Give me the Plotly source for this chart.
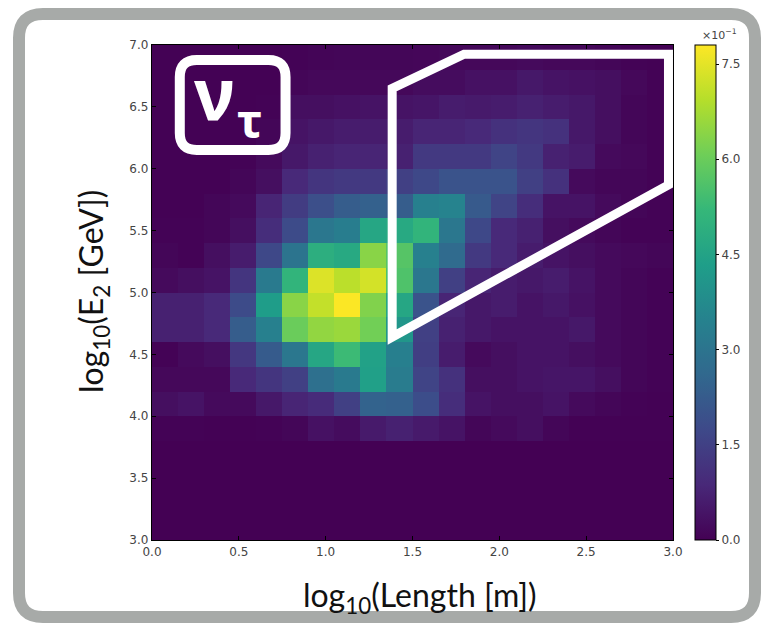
import plotly.graph_objects as go

# bin edges
x_edges = [0.0, 0.15, 0.3, 0.45, 0.6, 0.75, 0.9, 1.05, 1.2, 1.35, 1.5, 1.65, 1.8, 1.95, 2.1, 2.25, 2.4, 2.55, 2.7, 2.85, 3.0]
y_edges = [3.0, 3.2, 3.4, 3.6, 3.8, 4.0, 4.2, 4.4, 4.6, 4.8, 5.0, 5.2, 5.4, 5.6, 5.8, 6.0, 6.2, 6.4, 6.6, 6.8, 7.0]

# values in units of 1e-1, rows from bottom (3.0-3.2) to top (6.8-7.0)
row_00 = [0.00, 0.00, 0.00, 0.00, 0.00, 0.00, 0.00, 0.00, 0.00, 0.00, 0.00, 0.00, 0.00, 0.00, 0.00, 0.00, 0.00, 0.00, 0.00, 0.00]
row_01 = [0.00, 0.00, 0.00, 0.00, 0.00, 0.00, 0.00, 0.00, 0.00, 0.00, 0.00, 0.00, 0.00, 0.00, 0.00, 0.00, 0.00, 0.00, 0.00, 0.00]
row_02 = [0.00, 0.00, 0.00, 0.00, 0.00, 0.00, 0.00, 0.00, 0.00, 0.00, 0.00, 0.00, 0.00, 0.00, 0.00, 0.00, 0.00, 0.00, 0.00, 0.00]
row_03 = [0.00, 0.00, 0.00, 0.00, 0.00, 0.00, 0.01, 0.01, 0.01, 0.01, 0.01, 0.01, 0.00, 0.00, 0.00, 0.00, 0.00, 0.00, 0.00, 0.00]
row_04 = [0.05, 0.05, 0.03, 0.03, 0.05, 0.10, 0.35, 0.25, 0.55, 0.70, 0.55, 0.40, 0.10, 0.20, 0.30, 0.10, 0.03, 0.02, 0.02, 0.02]
row_05 = [0.30, 0.40, 0.20, 0.20, 0.50, 0.80, 0.95, 1.50, 2.45, 2.40, 1.85, 1.00, 0.40, 0.30, 0.30, 0.40, 0.20, 0.10, 0.05, 0.02]
row_06 = [0.15, 0.15, 0.15, 0.90, 1.20, 1.50, 2.85, 3.20, 4.40, 3.25, 1.60, 1.10, 0.30, 0.30, 0.40, 0.45, 0.45, 0.30, 0.10, 0.05]
row_07 = [0.05, 0.20, 0.30, 1.25, 2.25, 3.10, 4.60, 5.30, 4.45, 3.35, 1.45, 0.60, 0.20, 0.30, 0.40, 0.40, 0.30, 0.20, 0.10, 0.05]
row_08 = [0.70, 0.70, 0.90, 2.30, 3.40, 6.00, 6.50, 6.60, 6.10, 4.10, 1.50, 0.70, 0.50, 0.40, 0.40, 0.40, 0.50, 0.20, 0.10, 0.05]
row_09 = [0.70, 0.70, 0.90, 1.80, 4.30, 6.40, 7.10, 7.78, 6.30, 4.60, 2.00, 0.80, 0.50, 0.60, 0.40, 0.50, 0.35, 0.20, 0.10, 0.05]
row_10 = [0.20, 0.30, 0.40, 1.20, 3.20, 5.10, 7.40, 7.00, 7.30, 5.60, 3.10, 1.50, 0.80, 0.60, 0.50, 0.60, 0.40, 0.20, 0.10, 0.05]
row_11 = [0.10, 0.05, 0.30, 0.60, 1.70, 3.00, 4.90, 4.70, 6.40, 5.70, 3.40, 2.70, 1.30, 0.90, 0.60, 0.40, 0.30, 0.20, 0.15, 0.10]
row_12 = [0.05, 0.05, 0.10, 0.30, 1.00, 1.80, 3.10, 3.30, 4.60, 4.70, 5.10, 3.10, 1.70, 0.90, 0.70, 0.30, 0.20, 0.10, 0.05, 0.05]
row_13 = [0.03, 0.03, 0.10, 0.20, 0.80, 1.40, 1.90, 2.30, 2.40, 2.30, 3.40, 3.50, 2.20, 1.60, 1.00, 0.40, 0.40, 0.20, 0.10, 0.05]
row_14 = [0.02, 0.02, 0.03, 0.10, 0.30, 0.90, 1.20, 1.30, 1.30, 1.50, 1.70, 2.00, 2.00, 2.00, 1.50, 1.10, 0.20, 0.10, 0.10, 0.05]
row_15 = [0.02, 0.02, 0.02, 0.05, 0.20, 0.50, 0.70, 0.80, 0.80, 0.70, 1.30, 1.30, 1.30, 1.60, 1.30, 0.70, 0.60, 0.20, 0.15, 0.05]
row_16 = [0.02, 0.02, 0.02, 0.03, 0.10, 0.40, 0.50, 0.60, 0.60, 0.60, 0.80, 0.80, 0.90, 1.10, 1.20, 1.10, 0.50, 0.30, 0.10, 0.05]
row_17 = [0.02, 0.02, 0.02, 0.02, 0.05, 0.30, 0.30, 0.35, 0.40, 0.40, 0.45, 0.60, 0.55, 0.60, 0.70, 0.60, 0.50, 0.30, 0.10, 0.05]
row_18 = [0.02, 0.02, 0.02, 0.02, 0.03, 0.10, 0.15, 0.15, 0.15, 0.15, 0.25, 0.25, 0.35, 0.35, 0.50, 0.40, 0.35, 0.30, 0.15, 0.05]
row_19 = [0.02, 0.02, 0.02, 0.02, 0.02, 0.05, 0.08, 0.10, 0.10, 0.10, 0.12, 0.15, 0.15, 0.15, 0.20, 0.15, 0.15, 0.10, 0.05, 0.03]

z_rows = [row_00, row_01, row_02, row_03, row_04, row_05, row_06, row_07, row_08, row_09,
          row_10, row_11, row_12, row_13, row_14, row_15, row_16, row_17, row_18, row_19]

x_ticks = [0.0, 0.5, 1.0, 1.5, 2.0, 2.5, 3.0]
x_tick_labels = ["0.0", "0.5", "1.0", "1.5", "2.0", "2.5", "3.0"]
y_ticks = [3.0, 3.5, 4.0, 4.5, 5.0, 5.5, 6.0, 6.5, 7.0]
y_tick_labels = ["3.0", "3.5", "4.0", "4.5", "5.0", "5.5", "6.0", "6.5", "7.0"]
cb_ticks = [0.0, 1.5, 3.0, 4.5, 6.0, 7.5]
cb_tick_labels = ["0.0", "1.5", "3.0", "4.5", "6.0", "7.5"]

TICKFONT = dict(family="DejaVu Sans", size=12, color="#444")
TITLEFONT = dict(family="Lato", size=32, color="#111")

fig = go.Figure()
fig.add_trace(go.Heatmap(
    x=x_edges, y=y_edges, z=z_rows,
    colorscale="Viridis", zmin=0, zmax=7.8,
    hoverinfo="skip",
    colorbar=dict(
        thickness=21, len=1.0, lenmode="fraction", y=0.5, yanchor="middle",
        x=1.042, xanchor="left", xpad=0, ypad=0,
        outlinecolor="black", outlinewidth=1,
        tickmode="array", tickvals=cb_ticks, ticktext=cb_tick_labels,
        ticks="outside", ticklen=3, tickcolor="black",
        tickfont=TICKFONT,
    ),
))

W, H = 761, 625
ML, MR, MT, MB = 152, 88, 45, 85
PW, PH = W - ML - MR, H - MT - MB


def px2paper(px, py):
    return (px - ML) / PW, (H - MB - py) / PH


# gray rounded outer frame (paper coords)
Lx, Ty = px2paper(19, 14)
Rx, By = px2paper(755, 617)
rx, ry = 24 / PW, 24 / PH
frame_path = (f"M {Lx+rx},{Ty} L {Rx-rx},{Ty} Q {Rx},{Ty} {Rx},{Ty-ry} "
              f"L {Rx},{By+ry} Q {Rx},{By} {Rx-rx},{By} L {Lx+rx},{By} "
              f"Q {Lx},{By} {Lx},{By+ry} L {Lx},{Ty-ry} Q {Lx},{Ty} {Lx+rx},{Ty} Z")

# badge rounded rect (data coords)
bx0, bx1, by0, by1 = 0.160, 0.769, 6.152, 6.879
brx, bry = 17 / (PW / 3.0), 17 / (PH / 4.0)
badge_path = (f"M {bx0+brx},{by1} L {bx1-brx},{by1} Q {bx1},{by1} {bx1},{by1-bry} "
              f"L {bx1},{by0+bry} Q {bx1},{by0} {bx1-brx},{by0} L {bx0+brx},{by0} "
              f"Q {bx0},{by0} {bx0},{by0+bry} L {bx0},{by1-bry} Q {bx0},{by1} {bx0+brx},{by1} Z")

# selection polygon (data coords)
poly_path = "M 1.383,4.64 L 1.383,6.65 L 1.797,6.925 L 2.974,6.925 L 2.974,5.87 Z"

shapes = [
    dict(type="path", path=frame_path, xref="paper", yref="paper",
         line=dict(color="#a7aaa8", width=12), fillcolor="white", layer="below"),
    dict(type="path", path=badge_path, xref="x", yref="y",
         line=dict(color="white", width=10), layer="above"),
    dict(type="path", path=poly_path, xref="x", yref="y",
         line=dict(color="white", width=9), layer="above"),
]

xt, yt = px2paper(420, 597)
yx, yy = px2paper(93, 292)
cbx, cby = px2paper(719, 34)

annotations = [
    dict(x=0.358, y=6.617, xref="x", yref="y", text="ν", showarrow=False,
         font=dict(family="Noto Sans", size=72, color="white", weight="bold"),
         xanchor="center", yanchor="middle"),
    dict(x=0.5655, y=6.395, xref="x", yref="y", text="τ", showarrow=False,
         font=dict(family="Noto Sans", size=47, color="white", weight="bold"),
         xanchor="center", yanchor="middle"),
    dict(x=xt, y=yt, xref="paper", yref="paper", text="log<sub>10</sub>(Length [m])",
         showarrow=False, font=TITLEFONT, xanchor="center", yanchor="middle"),
    dict(x=yx, y=yy, xref="paper", yref="paper", text="log<sub>10</sub>(E<sub>2</sub> [GeV])",
         showarrow=False, font=TITLEFONT, xanchor="center", yanchor="middle", textangle=-90),
    dict(x=cbx, y=cby, xref="paper", yref="paper", text="×10<sup>−1</sup>",
         showarrow=False, font=dict(family="DejaVu Sans", size=11, color="#444"),
         xanchor="center", yanchor="middle"),
]

axis_common = dict(
    ticks="inside", ticklen=4, tickcolor="black", tickwidth=1,
    showline=True, linecolor="black", linewidth=1.3, mirror="ticks",
    showgrid=False, zeroline=False, tickfont=TICKFONT, tickmode="array",
)

fig.update_layout(
    width=W, height=H, autosize=False,
    margin=dict(l=ML, r=MR, t=MT, b=MB, pad=0),
    paper_bgcolor="white", plot_bgcolor="white",
    xaxis=dict(range=[0, 3], tickvals=x_ticks, ticktext=x_tick_labels, **axis_common),
    yaxis=dict(range=[3, 7], tickvals=y_ticks, ticktext=y_tick_labels, **axis_common),
    shapes=shapes, annotations=annotations, showlegend=False,
)

fig.write_html("out.html")
